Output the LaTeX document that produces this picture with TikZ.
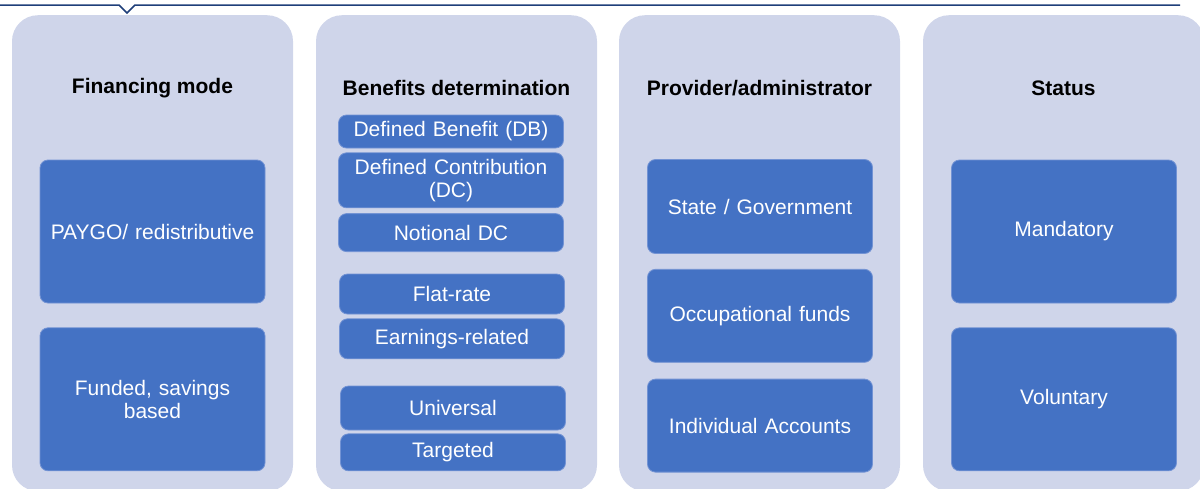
\documentclass[tikz,border=0pt]{standalone}
\usepackage{fontspec}
\setmainfont{Liberation Sans}
\usetikzlibrary{positioning}

\definecolor{panelfill}{HTML}{CFD5EA}
\definecolor{boxfill}{HTML}{4472C4}
\definecolor{boxline}{HTML}{7393D4}
\definecolor{rulecol}{HTML}{1F3F7A}

\tikzstyle{panel} = [rectangle, rounded corners=26pt, minimum width=281pt, minimum height=476pt, anchor=north, fill=panelfill]
\tikzstyle{heading} = [font=\bfseries\fontsize{21}{25}\selectfont, text=black]
\tikzstyle{item} = [rectangle, rounded corners=8pt, minimum width=225pt, text width=220pt, inner sep=0pt, align=center, draw=boxline, line width=0.8pt, fill=boxfill, text=white, font=\fontsize{21}{23}\selectfont]

\begin{document}
\begin{tikzpicture}[x=1pt, y=-1pt, node distance=4pt]

\path[use as bounding box, clip] (0,0) rectangle (1200,488);

% top rule with the small notch
\draw [rulecol, line width=1.5pt] (0,5) -- (119,5) -- (127,13) -- (135,5) -- (1180,5);

% Panels
\node (pfin) [panel] at (152.5,15) {};
\node (pben) [panel] at (456.5,15) {};
\node (pprov) [panel] at (759.5,15) {};
\node (pstat) [panel] at (1063.5,15) {};

\node (hfin) [heading] at (152.5,88) {Financing mode};
\node (hben) [heading] at (456.5,88) {Benefits determination};
\node (hprov) [heading] at (759.5,88) {Provider/administrator};
\node (hstat) [heading] at (1063.5,88) {Status};

% Financing mode
\node (paygo) [item, minimum height=143pt] at (152.5,231.5) {PAYGO/ redistributive};
\node (funded) [item, minimum height=143pt, below=24pt of paygo] {Funded, savings\\based};

% Benefits determination
\node (db) [item, minimum height=33pt] at (451,131.5) {Defined Benefit (DB)};
\node (dc) [item, minimum height=55pt, below=of db] {Defined Contribution\\(DC)};
\node (ndc) [item, minimum height=38pt, below=5pt of dc] {Notional DC};
\node (flat) [item, minimum height=40pt] at (452,294) {Flat-rate};
\node (earn) [item, minimum height=40pt, below=of flat] {Earnings-related};
\node (univ) [item, minimum height=44pt] at (453,408) {Universal};
\node (targ) [item, minimum height=37pt, below=3pt of univ] {Targeted};

% Provider/administrator
\node (state) [item, minimum height=94pt] at (760,206.5) {State / Government};
\node (occ) [item, minimum height=93pt, below=15pt of state] {Occupational funds};
\node (indiv) [item, minimum height=93pt, below=16pt of occ] {Individual Accounts};

% Status
\node (mand) [item, minimum height=143pt] at (1064,231.5) {Mandatory};
\node (vol) [item, minimum height=143pt, below=24pt of mand] {Voluntary};

\end{tikzpicture}
\end{document}
